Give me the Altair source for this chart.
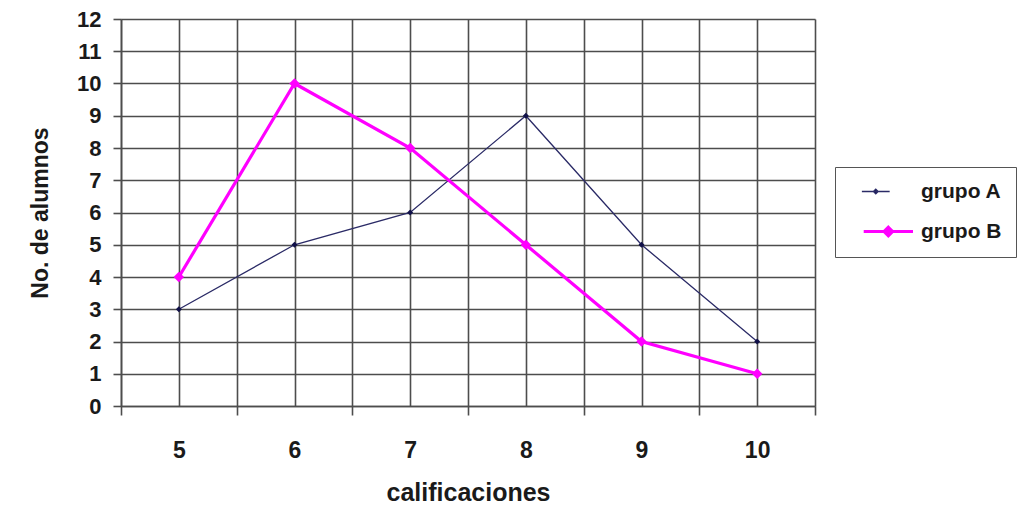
import altair as alt
import pandas as pd

calificaciones = [5, 6, 7, 8, 9, 10]
grupo_a = [3, 5, 6, 9, 5, 2]
grupo_b = [4, 10, 8, 5, 2, 1]
series = ["grupo A", "grupo B"]
y_ticks = list(range(0, 13))
x_grid = [4.5, 5, 5.5, 6, 6.5, 7, 7.5, 8, 8.5, 9, 9.5, 10, 10.5]

rows = []
for c, a, b in zip(calificaciones, grupo_a, grupo_b):
    rows.append({"cal": c, "n": a, "serie": "grupo A", "marca": "grupo A"})
    rows.append({"cal": c, "n": b, "serie": "grupo B", "marca": "grupo B"})
df = pd.DataFrame(rows)

FONT = "Liberation Sans"
GRID = "#4d4d4d"
SYMBOL = "M0.8,0L10.2,0M5.5,-0.8L6.3,0L5.5,0.8L4.7,0Z"
LINE_COLORS = ["#2a2a66", "#ff00ff"]
MARK_COLORS = ["#101048", "#ff00ff"]

xscale = alt.Scale(domain=[4.5, 10.5], nice=False, zero=False)
yscale = alt.Scale(domain=[0, 12], nice=False, zero=True)


def x_axis():
    return alt.Axis(
        values=x_grid,
        grid=True,
        labelExpr="datum.value % 1 == 0 ? '' + datum.value : ''",
        labelOverlap=False,
        tickSize=9,
        tickOpacity={"condition": {"test": "datum.value % 1 == 0", "value": 0}, "value": 1},
        labelPadding=24,
        title="calificaciones",
        titlePadding=18,
        labelFontSize=23,
        titleFontSize=25,
    )


def y_axis():
    return alt.Axis(
        values=y_ticks,
        grid=True,
        labelExpr="'' + datum.value",
        labelOverlap=False,
        tickSize=8,
        labelPadding=12,
        title="No. de alumnos",
        titlePadding=24,
        labelFontSize=22,
        titleFontSize=23,
    )


base = alt.Chart(df)
line = base.mark_line().encode(
    x=alt.X("cal:Q", scale=xscale, axis=x_axis()),
    y=alt.Y("n:Q", scale=yscale, axis=y_axis()),
    color=alt.Color(
        "serie:N",
        scale=alt.Scale(domain=series, range=LINE_COLORS),
        legend=alt.Legend(
            title=None,
            orient="none",
            legendX=714,
            legendY=148,
            symbolType=SYMBOL,
            symbolFillColor="#888888",
            labelFont=FONT,
            labelFontWeight="bold",
            labelFontSize=21,
            labelColor="#1a1a1a",
            labelOffset=51,
            rowPadding=18,
            padding=14,
            strokeColor="#555555",
            fillColor="white",
            labelLimit=200,
        ),
    ),
    strokeWidth=alt.StrokeWidth(
        "serie:N", scale=alt.Scale(domain=series, range=[1.3, 3.2]), legend=None
    ),
)
points = base.mark_point(shape="diamond", filled=True, opacity=1).encode(
    x=alt.X("cal:Q", scale=xscale, axis=x_axis()),
    y=alt.Y("n:Q", scale=yscale, axis=y_axis()),
    fill=alt.Fill("marca:N", scale=alt.Scale(domain=series, range=MARK_COLORS), legend=None),
    size=alt.Size("marca:N", scale=alt.Scale(domain=series, range=[35, 110]), legend=None),
)

chart = (
    alt.layer(line, points)
    .properties(
        width=694,
        height=387,
        autosize=alt.AutoSizeParams(type="none"),
        padding={"left": 113, "top": 11, "right": 207, "bottom": 100},
        background="white",
    )
    .configure_view(stroke=None)
    .configure_axis(
        gridColor=GRID,
        gridWidth=1.6,
        gridOpacity=1,
        domainColor=GRID,
        domainWidth=1.6,
        tickColor=GRID,
        tickWidth=1.6,
        labelFont=FONT,
        labelFontWeight="bold",
        labelColor="#1a1a1a",
        titleFont=FONT,
        titleFontWeight="bold",
        titleColor="#1a1a1a",
    )
)

chart.save("out.html", embed_options={"renderer": "svg", "actions": False})
